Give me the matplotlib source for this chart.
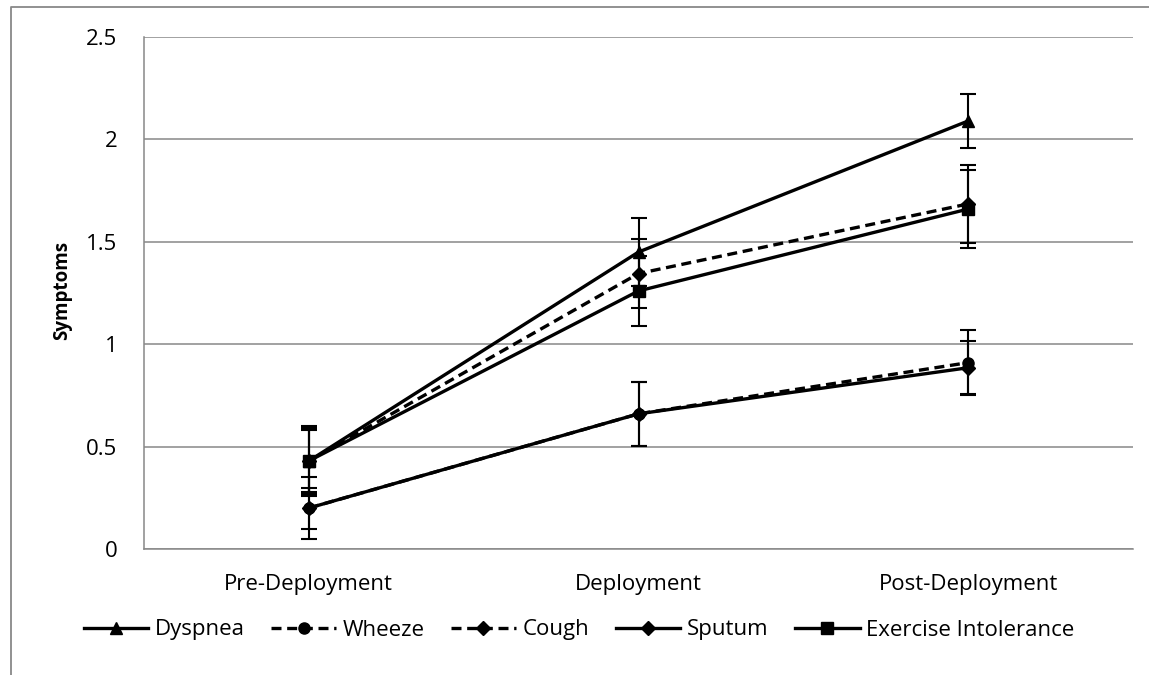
import numpy as np
import matplotlib
matplotlib.use('Agg')
import matplotlib.pyplot as plt
from matplotlib.lines import Line2D

plt.rcParams['font.family'] = ['Open Sans', 'DejaVu Sans']

# ---- data ----
phases = ['Pre-Deployment', 'Deployment', 'Post-Deployment']

dyspnea = [0.43, 1.45, 2.09]
dyspnea_err = [0.17, 0.165, 0.13]
wheeze = [0.20, 0.66, 0.91]
wheeze_err = [0.15, 0.155, 0.16]
cough = [0.43, 1.345, 1.685]
cough_err = [0.16, 0.17, 0.19]
sputum = [0.20, 0.66, 0.885]
sputum_err = [0.10, 0.155, 0.13]
exercise = [0.43, 1.26, 1.66]
exercise_err = [0.15, 0.17, 0.19]

series = [
    ('Dyspnea', dyspnea, dyspnea_err, '-', '^', 9),
    ('Wheeze', wheeze, wheeze_err, (0, (3, 1.7)), 'o', 8),
    ('Cough', cough, cough_err, (0, (3, 1.7)), 'D', 7),
    ('Sputum', sputum, sputum_err, '-', 'D', 7),
    ('Exercise Intolerance', exercise, exercise_err, '-', 's', 8.5),
]

W, H = 1149, 675
fig = plt.figure(figsize=(W / 100, H / 100), dpi=100)
ax = fig.add_axes([144 / W, 1 - 549 / H, (1133 - 144) / W, (549 - 37) / H])

x = np.arange(len(phases))
for name, vals, err, ls, mk, ms in series:
    ax.errorbar(x, vals, yerr=err, fmt='none', ecolor='black',
                elinewidth=1.5, capsize=6, capthick=1.5, zorder=3)
    ax.plot(x, vals, color='black', linestyle=ls, linewidth=2.4,
            marker=mk, markersize=ms, markerfacecolor='black',
            markeredgecolor='black', label=name, zorder=4)

ax.set_xlim(-0.5, 2.5)
ax.set_ylim(0, 2.5)
ax.set_yticks([0, 0.5, 1, 1.5, 2, 2.5])
ax.set_yticklabels(['0', '0.5', '1', '1.5', '2', '2.5'])
ax.set_xticks(x)
ax.set_xticklabels(phases)
ax.tick_params(axis='both', length=0, labelsize=16)
ax.tick_params(axis='y', pad=19)
ax.tick_params(axis='x', pad=18)
ax.yaxis.grid(True, color='#888888', linewidth=1.1)
ax.set_axisbelow(True)
for side in ['top', 'right']:
    ax.spines[side].set_visible(False)
for side in ['left', 'bottom']:
    ax.spines[side].set_color('#888888')
    ax.spines[side].set_linewidth(1.1)

fig.text(62 / W, 1 - 290 / H, 'Symptoms', rotation=90, ha='center',
         va='center', fontsize=13.5, fontweight='bold')

ax.legend(loc='center', bbox_to_anchor=(579 / W, 1 - 630 / H),
          bbox_transform=fig.transFigure, ncol=5, frameon=False,
          fontsize=16, handlelength=2.9, columnspacing=1.2,
          handletextpad=0.3)

# outer chart frame (left and top edges visible)
fig.add_artist(Line2D([11 / W, 11 / W, 1.0], [0.0, 1 - 7 / H, 1 - 7 / H],
                      transform=fig.transFigure, color='#888888',
                      linewidth=1.3))

plt.savefig('out.png', dpi=100)
